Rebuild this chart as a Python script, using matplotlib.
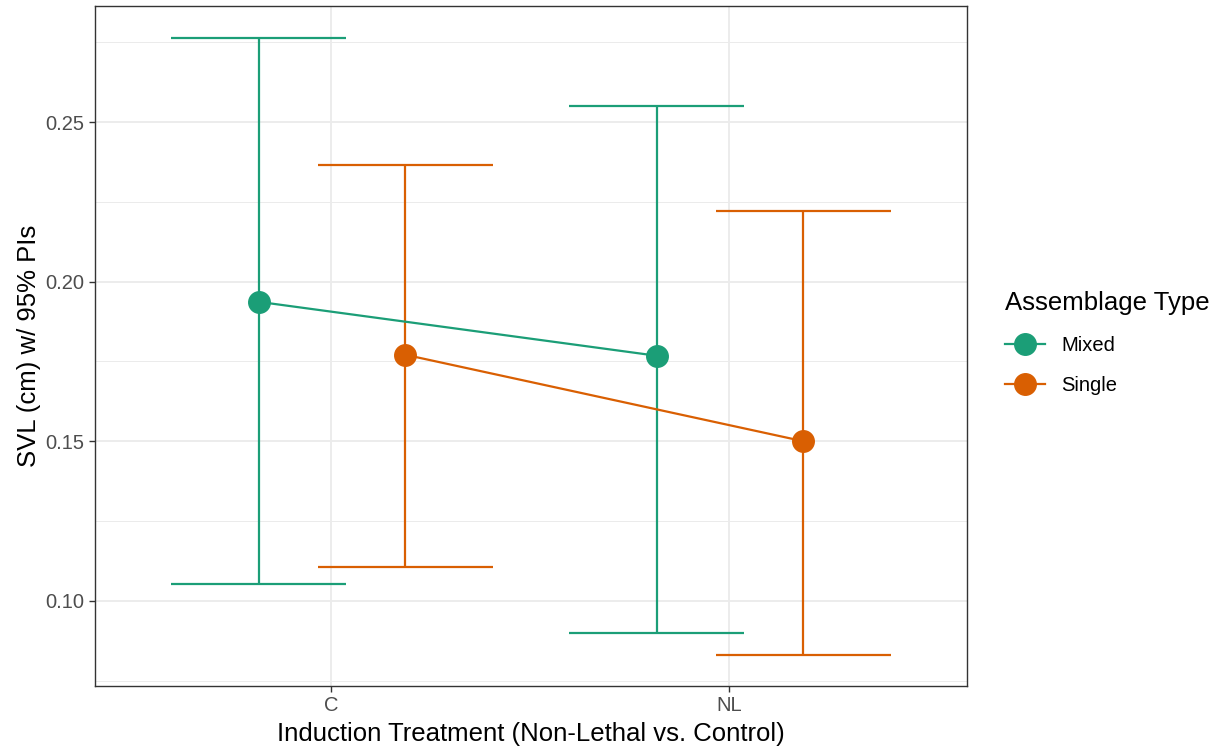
import numpy as np
import matplotlib
matplotlib.use("Agg")
import matplotlib.pyplot as plt
from matplotlib.lines import Line2D

plt.rcParams['font.family'] = ['Liberation Sans', 'DejaVu Sans']

# data
treatments = ['C', 'NL']
groups = ['Mixed', 'Single']
colors = {'Mixed': '#1B9E77', 'Single': '#D95F02'}
est = {'Mixed': [0.1937, 0.1768], 'Single': [0.1771, 0.1500]}
lower = {'Mixed': [0.1053, 0.0900], 'Single': [0.1107, 0.0831]}
upper = {'Mixed': [0.2764, 0.2550], 'Single': [0.2365, 0.2221]}

dodge = {'Mixed': -0.182, 'Single': 0.187}
capw = 0.22

fig = plt.figure(figsize=(12.27, 7.51), dpi=100)
ax = fig.add_axes([95 / 1227, 65 / 751, 872 / 1227, 680 / 751])

x = np.arange(1, len(treatments) + 1)
for g in groups:
    xs = x + dodge[g]
    c = colors[g]
    ax.vlines(xs, lower[g], upper[g], color=c, lw=1.6, zorder=3)
    ax.hlines(lower[g], xs - capw, xs + capw, color=c, lw=1.6, zorder=3)
    ax.hlines(upper[g], xs - capw, xs + capw, color=c, lw=1.6, zorder=3)
    ax.plot(xs, est[g], color=c, lw=1.6, zorder=4)
    ax.plot(xs, est[g], 'o', color=c, ms=15.5, zorder=5)

ax.set_xlim(0.407, 2.598)
ax.set_ylim(0.0733, 0.2864)
ax.set_xticks(x)
ax.set_xticklabels(treatments)
ax.set_yticks([0.10, 0.15, 0.20, 0.25])
ax.set_yticklabels(['0.10', '0.15', '0.20', '0.25'])
ax.set_yticks([0.075, 0.125, 0.175, 0.225, 0.275], minor=True)

ax.grid(True, which='major', color='#EBEBEB', lw=1.3, zorder=0)
ax.grid(True, which='minor', axis='y', color='#EBEBEB', lw=0.7, zorder=0)
ax.set_axisbelow(True)
for s in ax.spines.values():
    s.set_color('#333333')
    s.set_linewidth(1.0)
ax.tick_params(axis='both', which='major', length=4, width=1.0, color='#333333',
               labelsize=14.5, labelcolor='#4D4D4D', pad=3.5)
ax.tick_params(axis='y', which='minor', length=0)

ax.set_xlabel('Induction Treatment (Non-Lethal vs. Control)', fontsize=18.5, labelpad=5)
ax.set_ylabel('SVL (cm) w/ 95% PIs', fontsize=18.5, labelpad=3)

handles = [Line2D([0], [0], color=colors[g], lw=1.6, marker='o', ms=15.5) for g in groups]
leg = fig.legend(handles, groups, title='Assemblage Type', loc='upper left',
                 bbox_to_anchor=(989 / 1227, 1 - 275 / 751), frameon=False,
                 fontsize=14.5, title_fontsize=18.5, handlelength=2.0,
                 labelspacing=1.05, handletextpad=0.8, borderpad=0.3)
leg._legend_box.align = 'left'

fig.savefig('out.png', dpi=100)
